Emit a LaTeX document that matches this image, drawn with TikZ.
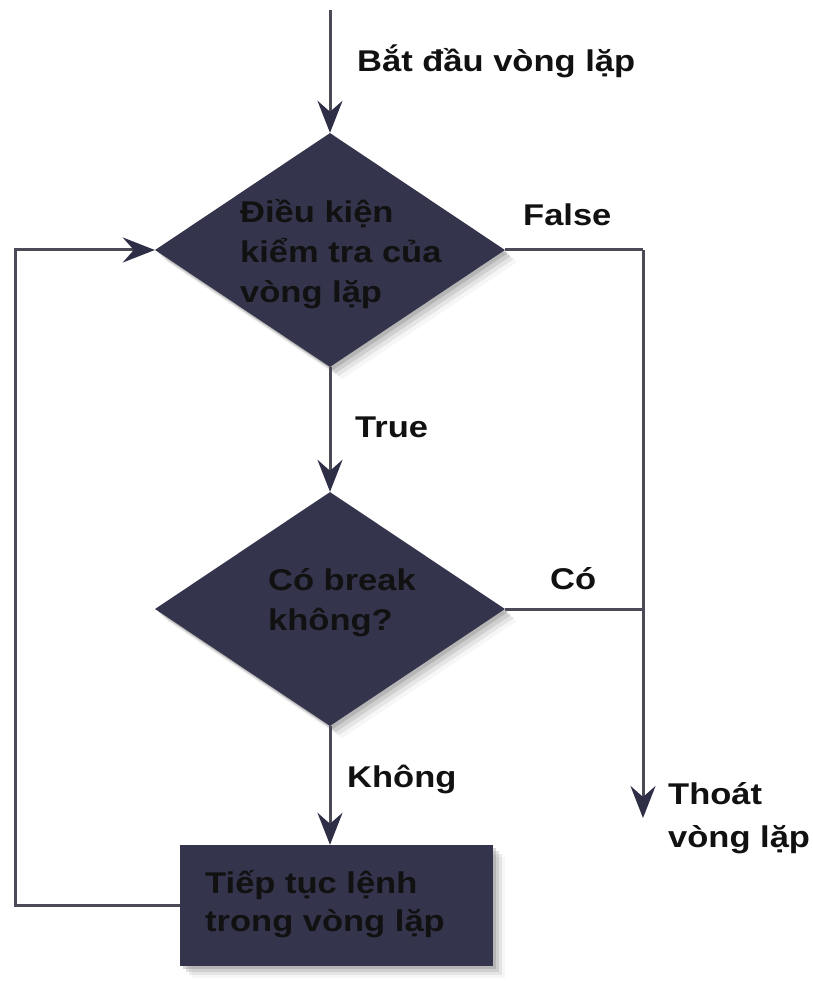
\documentclass[tikz,border=0pt]{standalone}
\usepackage{fontspec}
\setmainfont{Liberation Sans}[FakeStretch=1.15]
\usetikzlibrary{shapes.geometric,arrows.meta,shadows}
\definecolor{navy}{HTML}{34344D}
\definecolor{tipc}{HTML}{2E2E46}
\definecolor{linec}{HTML}{4B4B58}
\definecolor{txt}{HTML}{111111}
\begin{document}
\begin{tikzpicture}[x=1pt,y=-1pt,
  font=\fontsize{30}{40}\selectfont\bfseries,
  conn/.style={draw=linec, line width=3pt},
  tip/.style={-{Stealth[length=32pt,width=25pt,inset=11pt,color=tipc]}},
  shd/.style={
    drop shadow={shadow xshift=3pt,shadow yshift=-3pt,opacity=0.3},
    drop shadow={shadow xshift=6pt,shadow yshift=-6pt,opacity=0.22},
    drop shadow={shadow xshift=9pt,shadow yshift=-9pt,opacity=0.14},
    drop shadow={shadow xshift=12pt,shadow yshift=-12pt,opacity=0.07}},
  dec/.style={diamond, fill=navy, inner sep=0pt, minimum width=350pt, minimum height=234pt, shd},
  procbox/.style={rectangle, fill=navy, inner sep=0pt, minimum width=313pt, minimum height=121pt, shd},
  lbl/.style={anchor=base west, inner sep=0pt, align=left, text=txt},
]
\useasboundingbox (0,0) rectangle (812,981);
\fill[white] (0,0) rectangle (812,981);

\node[dec] (d1) at (330,250) {};
\node[dec] (d2) at (330,609) {};
\node[procbox] (box) at (336.5,905.5) {};

\node[lbl] (t1) at (240,302) {Điều kiện\\kiểm tra của\\vòng lặp};
\node[lbl] (t2) at (268,630) {Có break\\không?};
\node[lbl, font=\fontsize{30}{38}\selectfont\bfseries] (t3) at (205,931) {Tiếp tục lệnh\\trong vòng lặp};

\node[lbl] (lstart) at (357,72) {Bắt đầu vòng lặp};
\node[lbl] (lfalse) at (523,226) {False};
\node[lbl] (ltrue) at (355,437) {True};
\node[lbl] (lco) at (550,589) {Có};
\node[lbl] (lkhong) at (347,787) {Không};
\node[lbl, font=\fontsize{30}{43}\selectfont\bfseries] (lexit) at (668,847) {Thoát\\vòng lặp};

\coordinate (st) at (330,10);
\coordinate (ex) at (643,250);
\coordinate (exend) at (643,818);
\coordinate (lc) at (15,905.5);

\draw[conn,tip] (st) -- (d1.north);
\draw[conn,tip] (d1.south) -- (d2.north);
\draw[conn,tip] (d2.south) -- (d2.south |- box.north);
\draw[conn] (d1.east) -- (ex);
\draw[conn,tip] (ex) -- (exend);
\draw[conn] (d2.east) -- (d2.east -| ex);
\draw[conn,tip] (box.west) -- (lc) |- (d1.west);
\end{tikzpicture}
\end{document}
